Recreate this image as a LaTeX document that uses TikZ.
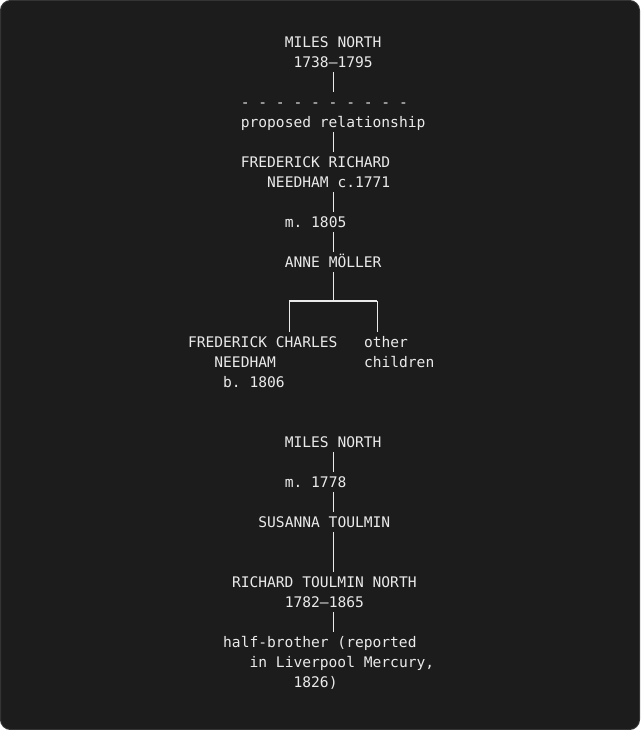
\documentclass[tikz,border=0pt]{standalone}
\usepackage{fontspec}
\newfontfamily\monofam{DejaVu Sans Mono}
\newcommand\treefont{\monofam\fontsize{10.95pt}{15pt}\selectfont\frenchspacing}
\definecolor{panel}{HTML}{1C1C1C}
\definecolor{rim}{HTML}{343434}
\definecolor{ink}{HTML}{EAEAEA}

\begin{document}
\begin{tikzpicture}[x=0.75pt, y=-0.75pt,
	txt/.style={anchor=base west, inner sep=0pt, outer sep=0pt, text height=11.5pt, text depth=3.5pt, font=\treefont, text=ink},
	bar/.style={draw=ink, line width=1pt}]

	\useasboundingbox (0,0) rectangle (640,730);
	\fill[panel, draw=rim, line width=0.75pt, rounded corners=7.5pt] (0.5,0.5) rectangle (639.5,729.5);

	% first line: Miles North to Needham
	\node[txt] (milesA) at (284.8,47.5) {MILES NORTH};
	\node[txt] (yearsA) at (293.6,67.5) {1738–1795};
	\node[txt] (dashes) at (240.8,107.5) {- - - - - - - - - -};
	\node[txt] (proposed) at (240.8,127.5) {proposed relationship};
	\node[txt] (fredA) at (240.8,167.5) {FREDERICK RICHARD};
	\node[txt] (fredB) at (267.2,187.5) {NEEDHAM c.1771};
	\node[txt] (marA) at (284.8,227.5) {m. 1805};
	\node[txt] (anne) at (284.8,267.5) {ANNE MÖLLER};

	\node[txt] (fcA) at (188,347.5) {FREDERICK CHARLES};
	\node[txt] (fcB) at (214.4,367.5) {NEEDHAM};
	\node[txt] (fcC) at (223.2,387.5) {b. 1806};
	\node[txt] (otherA) at (364,347.5) {other};
	\node[txt] (otherB) at (364,367.5) {children};

	\coordinate (spine) at (333.2,0);
	\coordinate (fork) at (333.2,301);
	\coordinate (forkL) at (289.2,301);
	\coordinate (forkR) at (377.2,301);

	\draw[bar] (yearsA.south -| spine) -- (dashes.north -| spine);
	\draw[bar] (proposed.south -| spine) -- (fredA.north -| spine);
	\draw[bar] (fredB.south -| spine) -- (marA.north -| spine);
	\draw[bar] (marA.south -| spine) -- (anne.north -| spine);
	\draw[bar] (anne.south -| spine) -- (fork);
	\draw[bar] (forkL) -- (forkR);
	\draw[bar] (forkL) -- (fcA.north -| forkL);
	\draw[bar] (forkR) -- (otherA.north -| forkR);

	% second line: Miles North to Richard Toulmin North
	\node[txt] (milesB) at (284.8,447.5) {MILES NORTH};
	\node[txt] (marB) at (284.8,487.5) {m. 1778};
	\node[txt] (susanna) at (258.4,527.5) {SUSANNA TOULMIN};
	\node[txt] (rtn) at (232,587.5) {RICHARD TOULMIN NORTH};
	\node[txt] (yearsB) at (284.8,607.5) {1782–1865};
	\node[txt] (halfA) at (223.2,647.5) {half-brother (reported};
	\node[txt] (halfB) at (249.6,667.5) {in Liverpool Mercury,};
	\node[txt] (halfC) at (293.6,687.5) {1826)};

	\draw[bar] (milesB.south -| spine) -- (marB.north -| spine);
	\draw[bar] (marB.south -| spine) -- (susanna.north -| spine);
	\draw[bar] (susanna.south -| spine) -- (rtn.north -| spine);
	\draw[bar] (yearsB.south -| spine) -- (halfA.north -| spine);

\end{tikzpicture}
\end{document}
